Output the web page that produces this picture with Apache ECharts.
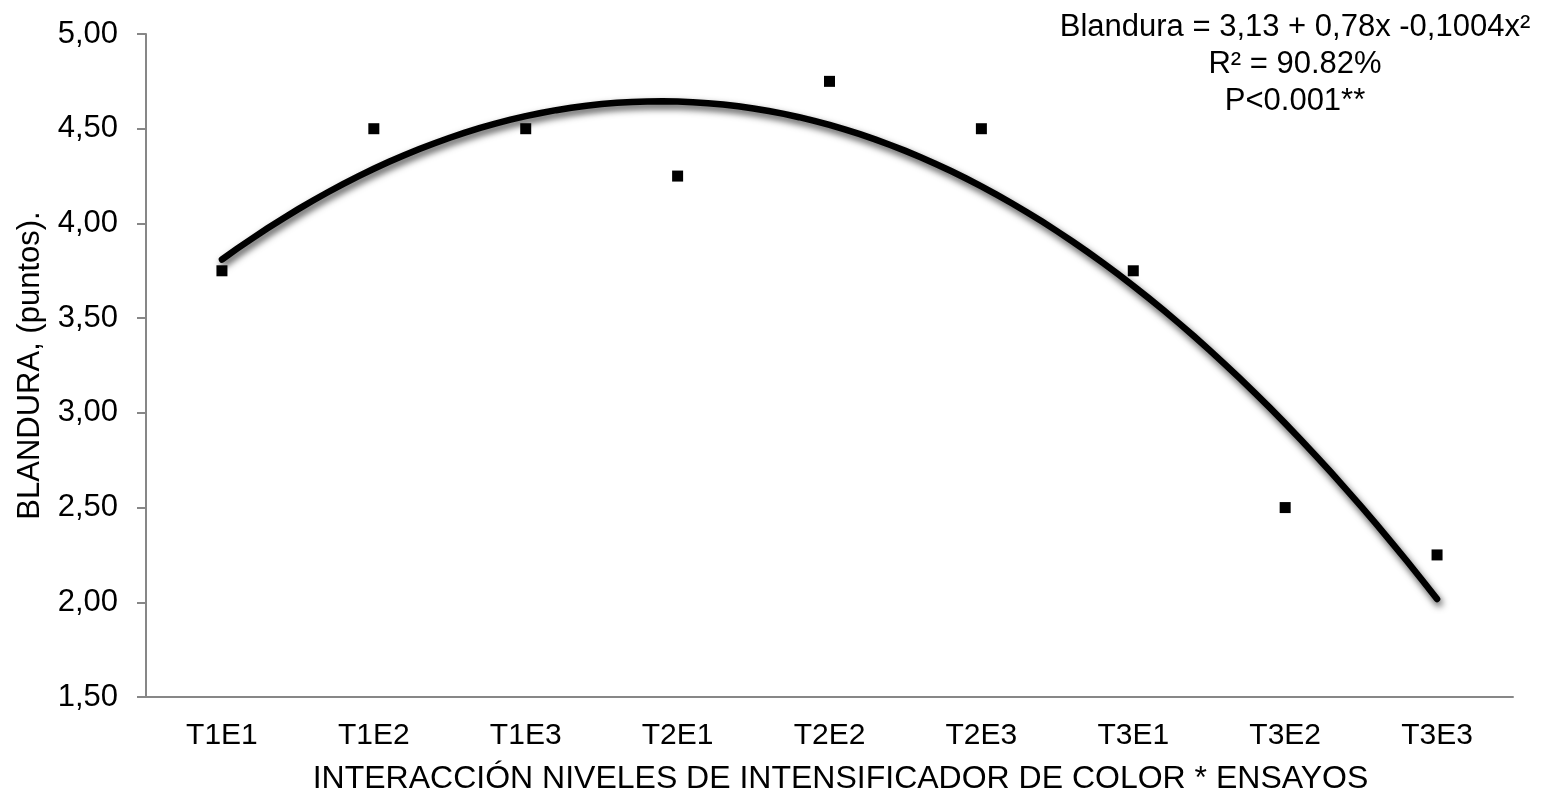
<!DOCTYPE html>
<html>
<head>
<meta charset="utf-8">
<script src="https://cdn.jsdelivr.net/npm/echarts@6/dist/echarts.min.js"></script>
<style>
  html, body { margin: 0; padding: 0; background: #fff; }
  #chart { width: 1548px; height: 796px; }
</style>
</head>
<body>
<div id="chart"></div>
<script>
// Treatment × trial combinations
const categories = ['T1E1', 'T1E2', 'T1E3', 'T2E1', 'T2E2', 'T2E3', 'T3E1', 'T3E2', 'T3E3'];
// Mean softness score per combination
const blandura = [3.75, 4.50, 4.50, 4.25, 4.75, 4.50, 3.75, 2.50, 2.25];
// Quadratic fit coefficients: a + b·x + c·x²
const fitCoef = [3.13, 0.78, -0.1004];
const equationLines = ['Blandura = 3,13 + 0,78x -0,1004x²', 'R² = 90.82%', 'P<0.001**'];

const fmt = v => v.toFixed(2).replace('.', ',');

// Sample the fitted curve across the treatment positions 1..9
const curve = [];
for (let i = 0; i <= 80; i++) {
  const x = 1 + i * 0.1;
  curve.push([x, fitCoef[0] + fitCoef[1] * x + fitCoef[2] * x * x]);
}

const font = 'Liberation Sans, Arial, sans-serif';
const chart = echarts.init(document.getElementById('chart'));
chart.setOption({
  backgroundColor: '#fff',
  animation: false,
  grid: { left: 146, top: 34, right: 35, bottom: 99, containLabel: false, outerBoundsMode: 'none' },
  graphic: equationLines.map((t, i) => ({
    type: 'text',
    x: 1295, y: 27 + i * 37,
    style: {
      text: t, fill: '#000',
      font: '31px ' + font,
      textAlign: 'center', textVerticalAlign: 'middle'
    },
    z: 10
  })),
  xAxis: [{
    type: 'category',
    data: categories,
    boundaryGap: true,
    name: 'INTERACCIÓN NIVELES DE INTENSIFICADOR DE COLOR * ENSAYOS',
    nameLocation: 'middle',
    nameGap: 82,
    nameTextStyle: { fontFamily: font, fontSize: 32, color: '#000', verticalAlign: 'middle', padding: [0, 0, 0, 22] },
    axisLine: { lineStyle: { color: '#878787', width: 2 } },
    axisTick: { length: 7, lineStyle: { color: '#878787', width: 2 } },
    axisLabel: { fontFamily: font, fontSize: 30, color: '#000', margin: 24 },
    splitLine: { show: false }
  }, {
    type: 'value',
    min: 0.5, max: 9.5,
    show: false
  }],
  yAxis: {
    type: 'value',
    min: 1.5, max: 5, interval: 0.5,
    name: 'BLANDURA, (puntos).',
    nameLocation: 'middle',
    nameRotate: 90,
    nameGap: 116,
    nameTextStyle: { fontFamily: font, fontSize: 31, color: '#000', verticalAlign: 'middle' },
    axisLine: { show: true, lineStyle: { color: '#878787', width: 2 } },
    axisTick: { show: true, length: 9, lineStyle: { color: '#878787', width: 2 } },
    axisLabel: { fontFamily: font, fontSize: 31, color: '#000', margin: 28, formatter: fmt },
    splitLine: { show: false }
  },
  series: [{
    name: 'Blandura',
    type: 'scatter',
    data: blandura,
    symbol: 'rect',
    symbolSize: 11,
    itemStyle: { color: '#000', opacity: 1 },
    z: 2
  }, {
    name: 'Ajuste',
    type: 'line',
    xAxisIndex: 1,
    data: curve,
    showSymbol: false,
    smooth: false,
    lineStyle: {
      color: '#000', width: 6.5, cap: 'round', join: 'round',
      shadowColor: 'rgba(0,0,0,0.7)', shadowBlur: 7, shadowOffsetX: 2, shadowOffsetY: 4
    },
    z: 3
  }]
});
</script>
</body>
</html>
